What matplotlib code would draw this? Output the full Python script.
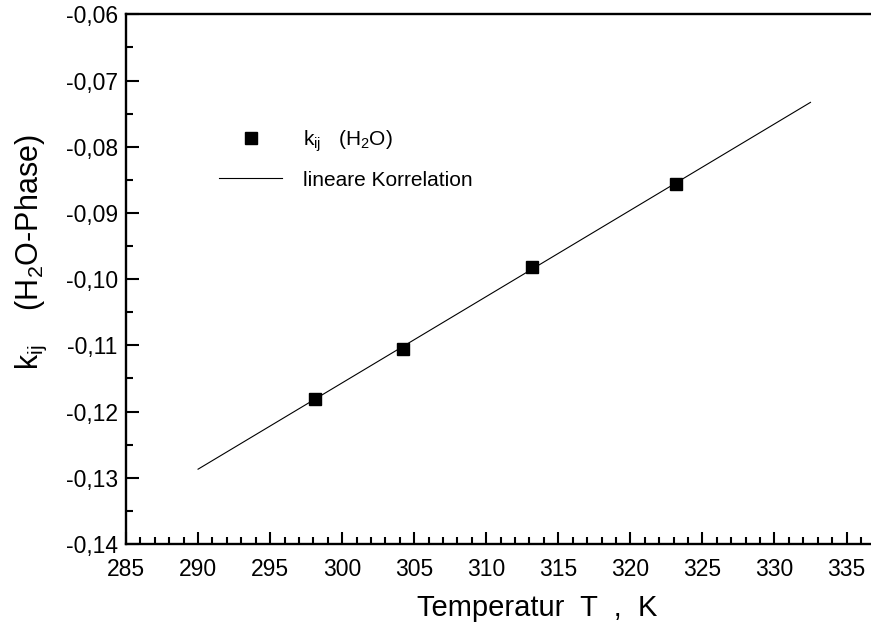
import matplotlib
matplotlib.use("Agg")
import matplotlib.pyplot as plt
from matplotlib.ticker import MultipleLocator, FuncFormatter

# Messwerte k_ij (H2O-Phase)
temperatur = [298.15, 304.2, 313.15, 323.15]
kij = [-0.1181, -0.1105, -0.0981, -0.0856]

# lineare Korrelation (Endpunkte der Geraden)
fit_t = [290.0, 332.5]
fit_k = [-0.1287, -0.0733]

plt.rcParams["font.family"] = "Liberation Sans"
plt.rcParams["mathtext.fontset"] = "custom"
plt.rcParams["mathtext.rm"] = "Liberation Sans"
plt.rcParams["mathtext.it"] = "Liberation Sans"

fig = plt.figure(figsize=(8.71, 6.28), dpi=100)
ax = fig.add_axes([126 / 871, 1 - 544 / 628, 1 - 126 / 871, (544 - 14.3) / 628])

ax.plot(temperatur, kij, "s", color="black", markersize=9, label=r"k$_{ij}$   (H$_2$O)")
ax.plot(fit_t, fit_k, "-", color="black", linewidth=0.8, label="lineare Korrelation")

ax.set_xlim(285, 336.7)
ax.set_ylim(-0.14, -0.06)

ax.xaxis.set_major_locator(MultipleLocator(5))
ax.xaxis.set_minor_locator(MultipleLocator(1))
ax.yaxis.set_major_locator(MultipleLocator(0.01))
ax.yaxis.set_minor_locator(MultipleLocator(0.005))
ax.yaxis.set_major_formatter(FuncFormatter(lambda v, p: f"{v:.2f}".replace(".", ",")))

ax.spines["right"].set_visible(False)
for s in ["left", "bottom", "top"]:
    ax.spines[s].set_linewidth(1.7)

ax.tick_params(which="both", direction="in", width=1.5, labelsize=16.5, top=False, right=False)
ax.tick_params(which="major", length=9)
ax.tick_params(which="minor", length=5)
ax.tick_params(axis="x", pad=10)
ax.tick_params(axis="y", pad=6)

ax.set_xlabel("Temperatur  T  ,  K", fontsize=21, va="center")
ax.xaxis.set_label_coords(0.552, -0.121)
ax.set_ylabel(r"k$_{ij}$    (H$_2$O-Phase)", fontsize=22, va="center")
ax.yaxis.set_label_coords(-0.127, 0.551)

ax.legend(loc="upper left", bbox_to_anchor=(0.1, 0.82), frameon=False, fontsize=15,
          handlelength=3, handletextpad=1.0, labelspacing=0.8)

fig.savefig("out.png", dpi=100)
